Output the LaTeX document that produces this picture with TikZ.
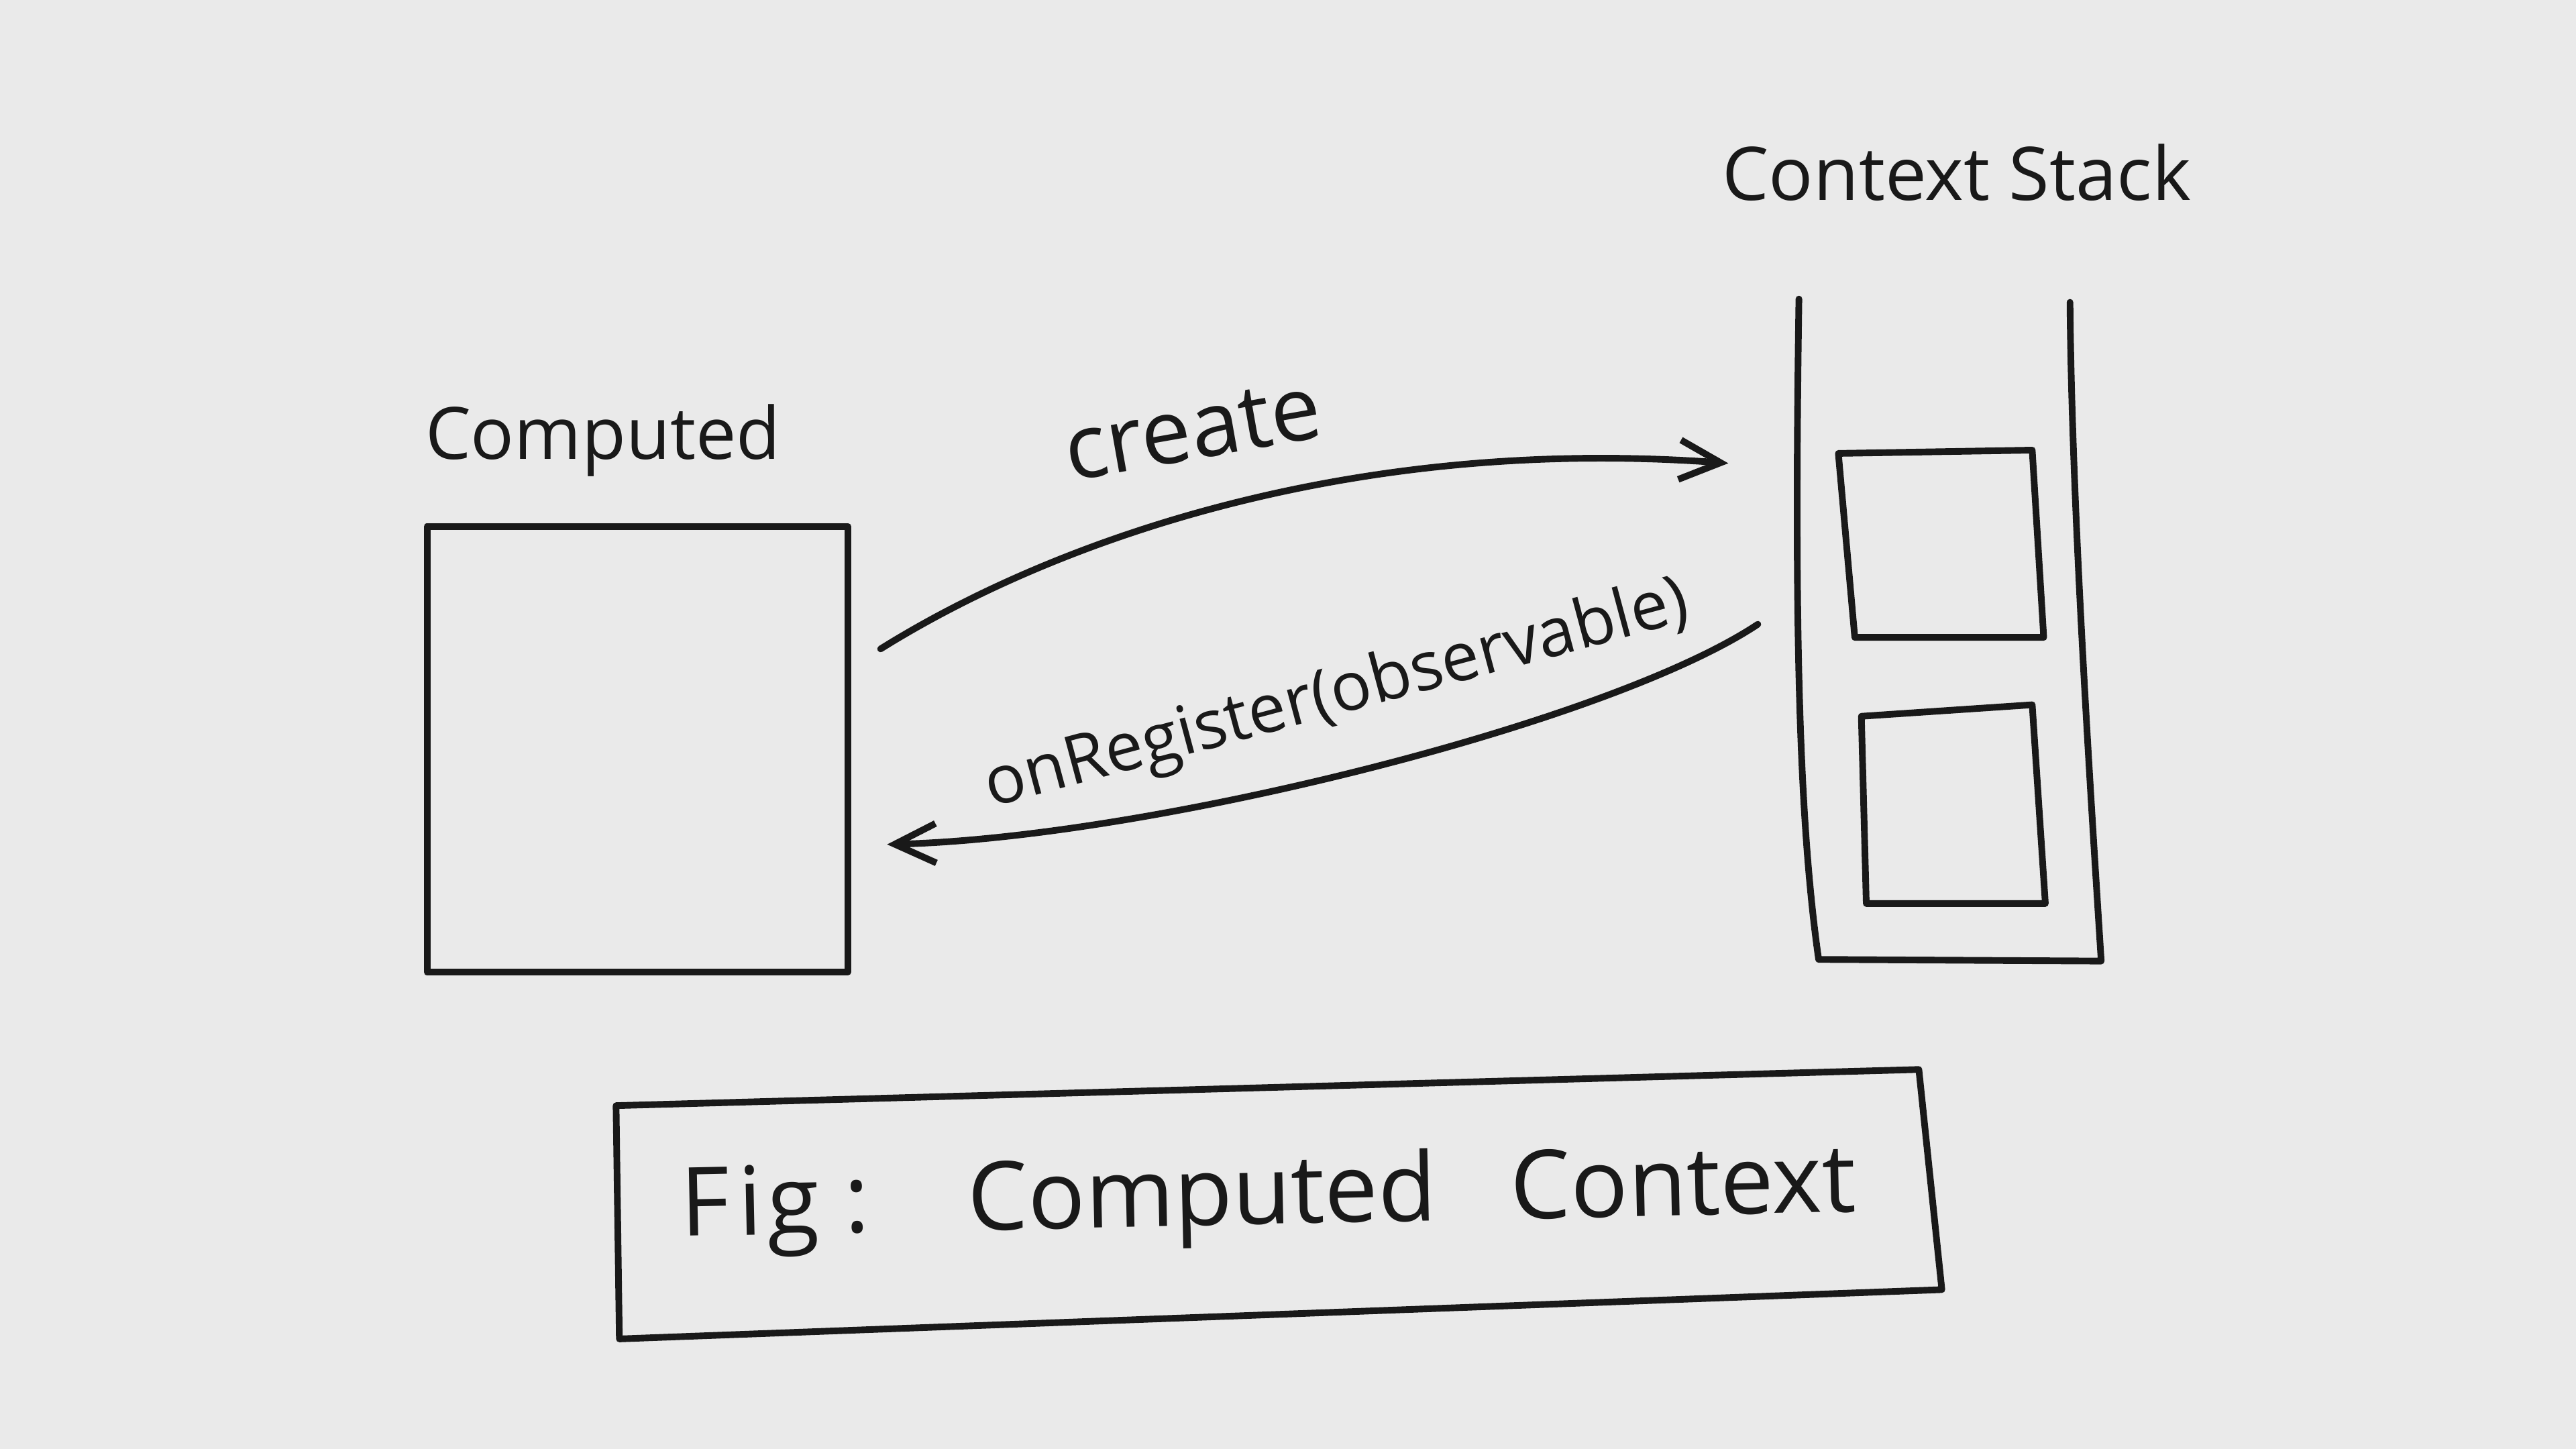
\documentclass[tikz,border=0pt]{standalone}
\usepackage{fontspec}
\setmainfont{Open Sans}
\usetikzlibrary{arrows.meta}
\definecolor{paper}{RGB}{234,234,234}
\definecolor{ink}{RGB}{25,25,25}
\begin{document}
\begin{tikzpicture}[x=0.01cm,y=-0.01cm,
  inkline/.style={draw=ink,line width=1.15pt,line join=round,line cap=round},
  lbl/.style={text=ink,inner sep=0pt},
  arr/.style={inkline,-{Straight Barb[length=2.5mm,width=2.4mm,line width=1.15pt]}}]
\fill[paper] (0,0) rectangle (1568,882);
\useasboundingbox (0,0) rectangle (1568,882);

% Computed
\node[lbl,font=\fontsize{12.5}{15}\selectfont] (complbl) at (367,268) {Computed};
\node[inkline,minimum width=2.56cm,minimum height=2.71cm] (comp) at (388,456) {};

% Context stack
\node[lbl,font=\fontsize{12.8}{16}\selectfont] (stacklbl) at (1191,105) {Context Stack};
\coordinate (sTL) at (1095,182);
\coordinate (sBL) at (1107,584);
\coordinate (sBR) at (1279,585);
\coordinate (sTR) at (1260,184);
\draw[inkline] (sTL) .. controls (1092,380) and (1095,500) .. (sBL) -- (sBR)
  .. controls (1271,460) and (1261,300) .. (sTR);
\coordinate (aTL) at (1119,276); \coordinate (aTR) at (1237,274);
\coordinate (aBR) at (1244,388); \coordinate (aBL) at (1129,388);
\draw[inkline] (aTL) -- (aTR) -- (aBR) -- (aBL) -- cycle;
\coordinate (bTL) at (1133,436); \coordinate (bTR) at (1237,429);
\coordinate (bBR) at (1245,550); \coordinate (bBL) at (1136,550);
\draw[inkline] (bTL) -- (bTR) -- (bBR) -- (bBL) -- cycle;

% create arrow
\coordinate (cS) at (536,395);
\coordinate (cE) at (1052,282);
\draw[arr] (cS) .. controls (640,330) and (820,265) .. (cE);
\node[lbl,rotate=10,font=\fontsize{15.5}{18}\selectfont] (createlbl) at (726,262) {create};

% onRegister arrow
\coordinate (rS) at (1070,380);
\coordinate (rE) at (540,514);
\draw[arr] (rS) .. controls (980,440) and (700,510) .. (rE);
\node[lbl,rotate=15,font=\fontsize{11.7}{14}\selectfont] (reglbl) at (814,424) {onRegister(observable)};

% Figure caption box
\coordinate (fTL) at (375,673); \coordinate (fTR) at (1168,651);
\coordinate (fBR) at (1182,785); \coordinate (fBL) at (377,815);
\draw[inkline] (fTL) -- (fTR) -- (fBR) -- (fBL) -- cycle;
\node[lbl,rotate=1.2,font=\fontsize{16.5}{19}\selectfont] (fig) at (772,730)
  {F\kern0.05cm i\kern0.03cm g\hspace{0.15cm}:\hspace{0.6cm}Computed\hspace{0.45cm}Context};
\end{tikzpicture}
\end{document}
